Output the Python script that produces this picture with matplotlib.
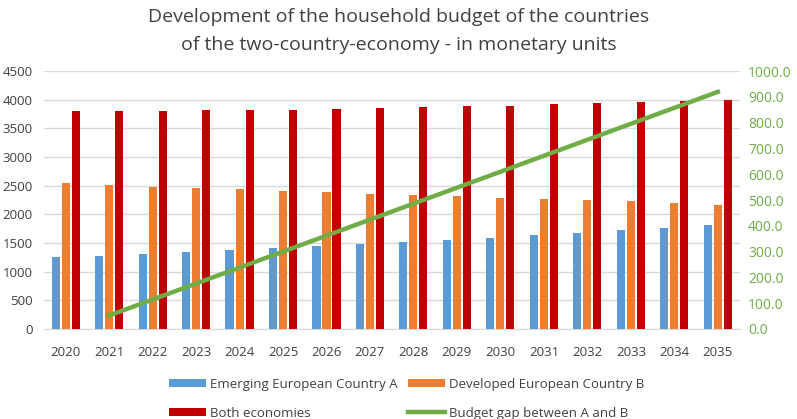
import numpy as np
import matplotlib.pyplot as plt

years = [str(y) for y in range(2020, 2036)]
country_a = [1250, 1275, 1315, 1345, 1375, 1415, 1445, 1490, 1525, 1555, 1595, 1640, 1680, 1725, 1765, 1810]
country_b = [2540, 2510, 2485, 2455, 2440, 2410, 2385, 2360, 2345, 2315, 2290, 2275, 2245, 2230, 2200, 2170]
both = [3800, 3800, 3800, 3815, 3830, 3830, 3840, 3860, 3870, 3885, 3900, 3930, 3945, 3955, 3985, 4005]
gap_years = years[1:]
gap = [52, 114, 176, 238, 300, 362, 424, 486, 548, 610, 672, 734, 796, 858, 920]

plt.rcParams['font.family'] = ['Open Sans', 'DejaVu Sans']

fig = plt.figure(figsize=(7.97, 4.19), dpi=100)
ax = fig.add_axes([0.055, 0.215, 0.873, 0.615])

x = np.arange(len(years))
w = 0.185
ax.bar(x - 0.23, country_a, w, color='#5b9bd5', label='Emerging European Country A', zorder=3)
ax.bar(x, country_b, w, color='#ed7d31', label='Developed European Country B', zorder=3)
ax.bar(x + 0.23, both, w, color='#c00000', label='Both economies', zorder=3)

ax.set_xlim(-0.5, len(years) - 0.5)
ax.set_ylim(0, 4500)
ax.set_yticks(range(0, 4501, 500))
ax.set_xticks(x)
ax.set_xticklabels(years)
ax.grid(axis='y', color='#d9d9d9', linewidth=1, zorder=0)
for s in ['top', 'right', 'left']:
    ax.spines[s].set_visible(False)
ax.spines['bottom'].set_color('#d9d9d9')
ax.tick_params(length=0, labelsize=9.5, colors='#404040')
ax.tick_params(axis='x', pad=12)
ax.tick_params(axis='y', pad=8)

ax2 = ax.twinx()
gx = [years.index(y) for y in gap_years]
ax2.plot(gx, gap, color='#70ad47', linewidth=3.2, label='Budget gap between A and B', zorder=4)
ax2.set_ylim(0, 1000)
ax2.set_yticks(range(0, 1001, 100))
ax2.set_yticklabels([f'{v:.1f}' for v in range(0, 1001, 100)])
ax2.tick_params(length=0, labelsize=10, colors='#70ad47', pad=6)
for s in ax2.spines.values():
    s.set_visible(False)

fig.suptitle('Development of the household budget of the countries\nof the two-country-economy - in monetary units',
             fontsize=14, color='#404040', y=0.982, linespacing=1.75)

h1, l1 = ax.get_legend_handles_labels()
h2, l2 = ax2.get_legend_handles_labels()
handles = [h1[0], h1[2], h1[1], h2[0]]
labels = [l1[0], l1[2], l1[1], l2[0]]
fig.legend(handles, labels, ncol=2, loc='lower center', bbox_to_anchor=(0.51, -0.03),
           frameon=False, fontsize=9.5, handlelength=2.8, handleheight=0.5,
           columnspacing=0.8, labelspacing=1.2, labelcolor='#404040', handletextpad=0.3)

fig.savefig('out.png', dpi=100)
